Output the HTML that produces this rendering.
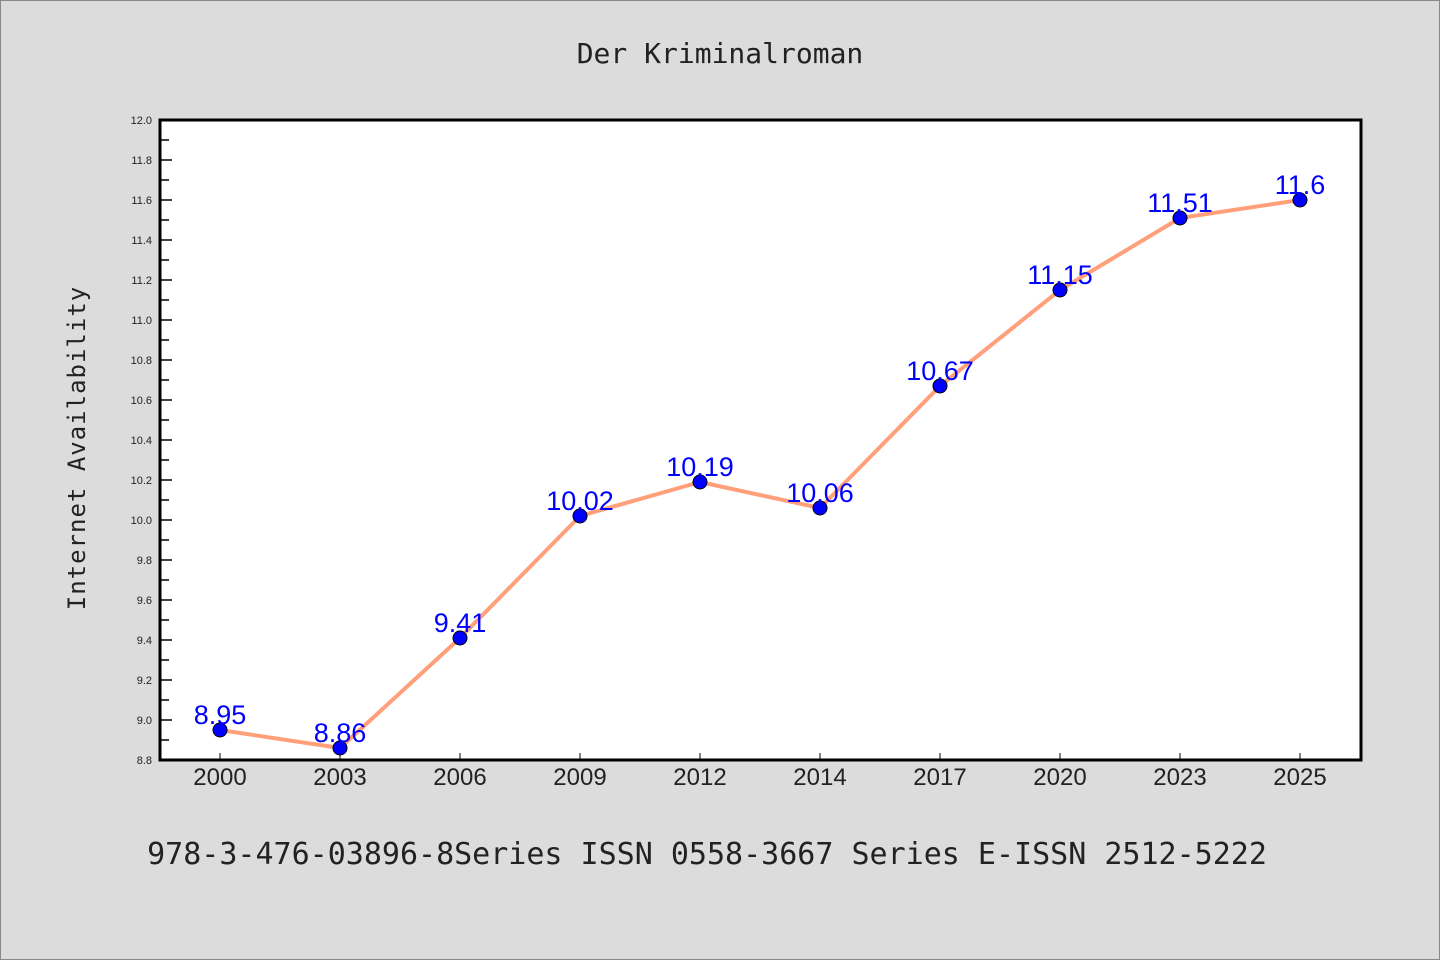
<!DOCTYPE html>
<html><head><meta charset="utf-8"><style>
html,body{margin:0;padding:0;background:#dcdcdc;}
svg{display:block;font-family:"Liberation Sans","Noto Sans CJK SC",sans-serif;}
</style></head><body>
<svg width="1440" height="960" xmlns="http://www.w3.org/2000/svg">
<rect x="0.5" y="0.5" width="1439" height="959" fill="#dcdcdc" stroke="#888"/>
<text x="720" y="63" text-anchor="middle" font-size="28" fill="#222" font-family="DejaVu Sans Mono, monospace">Der Kriminalroman</text>
<rect x="160" y="120" width="1201" height="640" fill="#fff"/>
<g id="axes"></g>
<g id="series"></g>
<rect x="160" y="120" width="1201" height="640" fill="none" stroke="#000" stroke-width="3"/>
<text transform="translate(85,448) rotate(-90)" text-anchor="middle" font-size="24" fill="#222" font-family="DejaVu Sans Mono, monospace" letter-spacing="1">Internet Availability</text>
<text x="707" y="864" text-anchor="middle" font-size="30" fill="#222" font-family="DejaVu Sans Mono, monospace">978-3-476-03896-8Series ISSN 0558-3667 Series E-ISSN 2512-5222</text>
</svg>
<script>
const categories=["2000","2003","2006","2009","2012","2014","2017","2020","2023","2025"];
const values=[8.95,8.86,9.41,10.02,10.19,10.06,10.67,11.15,11.51,11.6];
const valueLabels=["8.95","8.86","9.41","10.02","10.19","10.06","10.67","11.15","11.51","11.6"];
const yTicks=["8.8","9.0","9.2","9.4","9.6","9.8","10.0","10.2","10.4","10.6","10.8","11.0","11.2","11.4","11.6","11.8","12.0"];
const yMin=8.8,yMax=12.0;
const NS="http://www.w3.org/2000/svg";
const L=160,R=1361,T=120,B=760;
function y(v){return B-(v-yMin)/(yMax-yMin)*(B-T);}
function x(i){return 220+i*(1300-220)/(categories.length-1);}
function mk(tag,attrs,parent){const e=document.createElementNS(NS,tag);for(const k in attrs)e.setAttribute(k,attrs[k]);parent.appendChild(e);return e;}
const axes=document.getElementById('axes');
yTicks.forEach((t,i)=>{
  const v=parseFloat(t),yy=y(v);
  const ln=mk('line',{x1:L,x2:L+12,y1:yy,y2:yy,stroke:'#000','stroke-width':1.5},axes);
  
  
  const tx=mk('text',{x:152,y:yy+4,'text-anchor':'end','font-size':11,fill:'#222'},axes);
  tx.textContent=t;
  
  
  if(i<yTicks.length-1){
    const ym=y(v+0.1);
    const mn=mk('line',{x1:L,x2:L+9,y1:ym,y2:ym,stroke:'#000','stroke-width':1.5},axes);
    
    
  }
});
categories.forEach((c,i)=>{
  const xx=x(i);
  const tk=mk('line',{x1:xx,x2:xx,y1:B,y2:B-7,stroke:'#000','stroke-width':1},axes);
  
  
  const tx=mk('text',{x:xx,y:785,'text-anchor':'middle','font-size':24,fill:'#222'},axes);
  tx.textContent=c;
  
  
});
const s=document.getElementById('series');
const pl=mk('polyline',{points:values.map((v,i)=>x(i)+','+y(v)).join(' '),fill:'none',stroke:'#ffa07a','stroke-width':4,'stroke-linejoin':'round'},s);


values.forEach((v,i)=>{
  const c=mk('circle',{cx:x(i),cy:y(v),r:7,fill:'#0000ff',stroke:'#000','stroke-width':1},s);
  
  
});
values.forEach((v,i)=>{
  const t=mk('text',{x:x(i),y:y(v)-6,'text-anchor':'middle','font-size':27,fill:'#0000ff'},s);
  t.textContent=valueLabels[i];
  
  
});
</script>
</body></html>
